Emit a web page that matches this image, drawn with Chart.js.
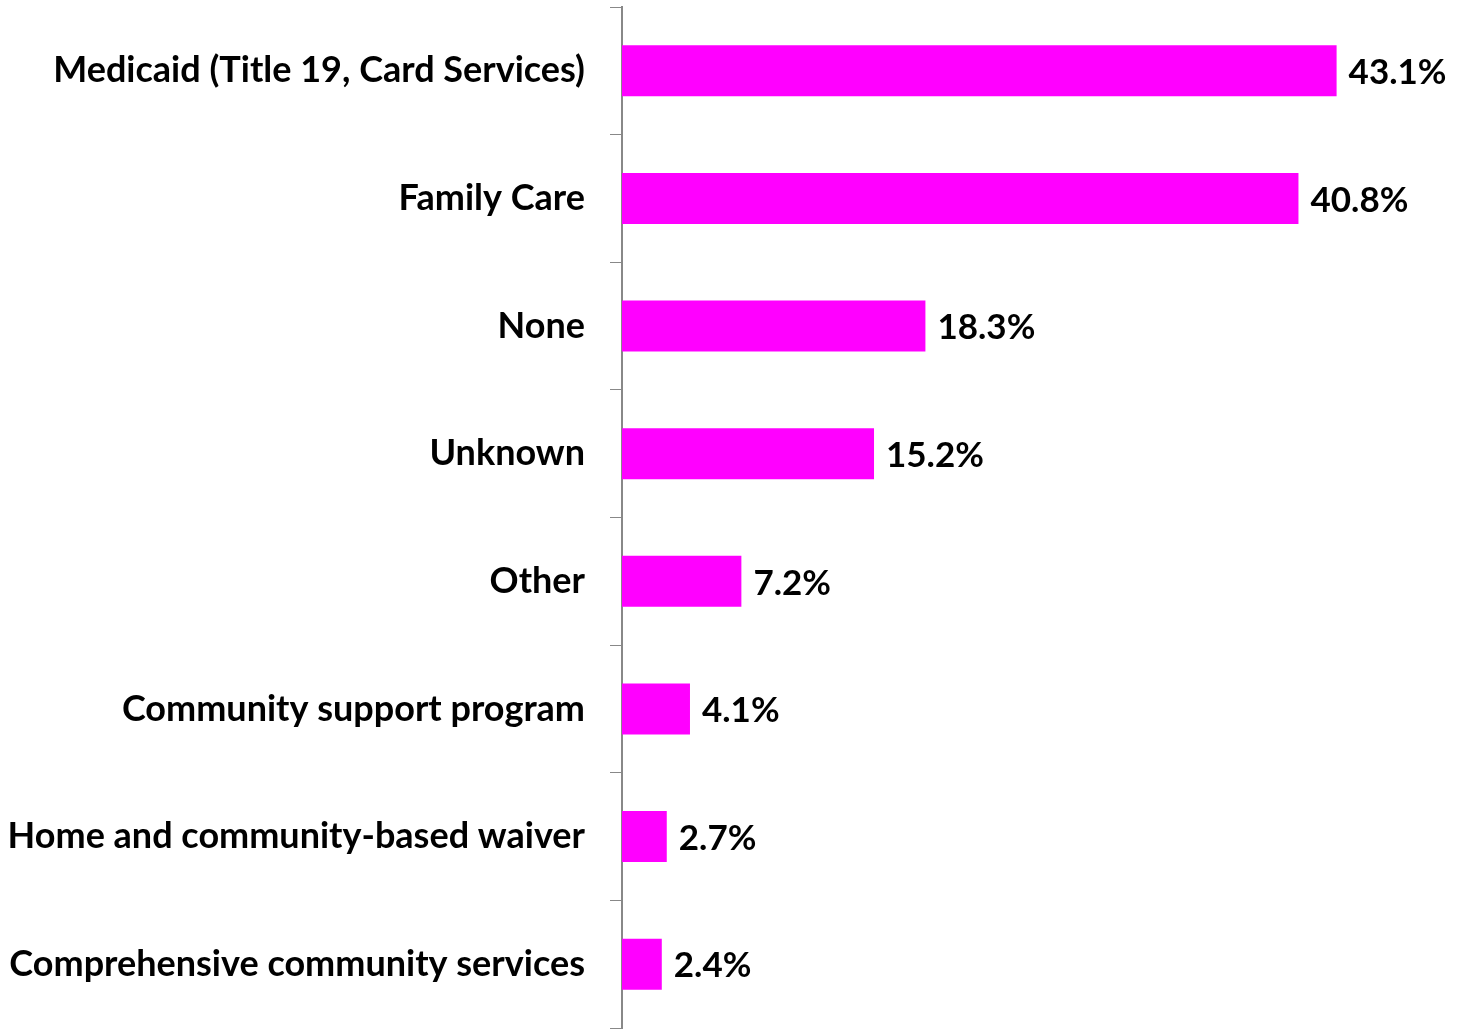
<!DOCTYPE html>
<html>
<head>
<meta charset="utf-8">
<script src="https://cdn.jsdelivr.net/npm/chart.js@4/dist/chart.umd.min.js"></script>
<style>
  html, body { margin: 0; padding: 0; background: #fff; }
  #wrap { width: 1464px; height: 1030px; }
</style>
</head>
<body>
<div id="wrap"><canvas id="myChart"></canvas></div>
<script>
const categories = [
  "Medicaid (Title 19, Card Services)",
  "Family Care",
  "None",
  "Unknown",
  "Other",
  "Community support program",
  "Home and community-based waiver",
  "Comprehensive community services"
];
const percents = [43.1, 40.8, 18.3, 15.2, 7.2, 4.1, 2.7, 2.4];
const barColor = "#ff00ff";
const font = "Lato";

// value text drawn after each bar
const valueLabels = {
  id: "valueLabels",
  afterDatasetsDraw(chart) {
    const ctx = chart.ctx;
    const meta = chart.getDatasetMeta(0);
    ctx.save();
    ctx.font = "bold 35px " + font;
    ctx.fillStyle = "#000";
    ctx.textAlign = "left";
    ctx.textBaseline = "middle";
    meta.data.forEach((bar, i) => {
      ctx.fillText(percents[i].toFixed(1) + "%", bar.x + 12, bar.y + 2);
    });
    ctx.restore();
  }
};

new Chart("myChart", {
  type: "bar",
  data: {
    labels: categories,
    datasets: [{
      data: percents,
      backgroundColor: barColor,
      barPercentage: 0.4,
      categoryPercentage: 1.0
    }]
  },
  options: {
    indexAxis: "y",
    responsive: true,
    maintainAspectRatio: false,
    animation: false,
    layout: { padding: { top: 7, bottom: 2, right: 13, left: 0 } },
    plugins: {
      legend: { display: false },
      tooltip: { enabled: false }
    },
    scales: {
      x: {
        display: false,
        min: 0,
        max: 50
      },
      y: {
        afterFit(scale) {
          scale.width = 622;
          scale.paddingTop = 0;
          scale.paddingBottom = 0;
        },
        grid: {
          drawOnChartArea: false,
          drawTicks: true,
          tickLength: 12,
          color: "#888",
          offset: true
        },
        border: { color: "#888", width: 2 },
        ticks: {
          color: "#000",
          padding: 25,
          font: { family: font, size: 36, weight: "bold" }
        }
      }
    }
  },
  plugins: [valueLabels]
});
</script>
</body>
</html>
